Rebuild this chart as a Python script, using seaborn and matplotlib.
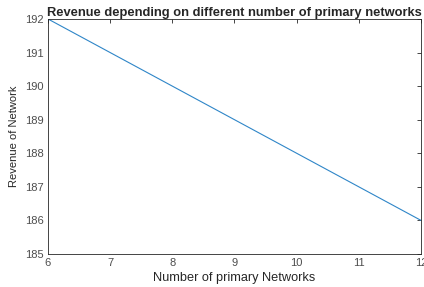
import pandas as pd
import matplotlib
matplotlib.use("Agg")
import matplotlib.pyplot as plt
import seaborn as sns

# --- data ---
num_networks = [6, 7, 8, 9, 10, 11, 12]
revenue = [192, 191, 190, 189, 188, 187, 186]

df = pd.DataFrame({"Number of primary Networks": num_networks, "Revenue of Network": revenue})

sns.set_style("white")
plt.rcParams["font.family"] = ["Liberation Sans", "DejaVu Sans"]

fig = plt.figure(figsize=(4.24, 2.87), dpi=100)
ax = fig.add_axes([0.113, 0.115, 0.88, 0.819])

sns.lineplot(data=df, x="Number of primary Networks", y="Revenue of Network",
             color="#2f86c8", linewidth=0.8, ax=ax)

ax.set_xlim(6, 12)
ax.set_ylim(185, 192)
ax.set_xticks(range(6, 13))
ax.set_yticks(range(185, 193))

ax.tick_params(direction="in", length=3, width=0.6, top=True, right=True,
               labelsize=8, colors="#262626", labelcolor="#4d4d4d", pad=3)
for s in ax.spines.values():
    s.set_visible(True)
    s.set_color("#262626")
    s.set_linewidth(0.6)

ax.set_title("Revenue depending on different number of primary networks",
             fontsize=9.3, fontweight="bold", pad=2)
ax.set_xlabel("Number of primary Networks", fontsize=9.2, color="#262626", labelpad=3)
ax.set_ylabel("Revenue of Network", fontsize=8, color="#262626", labelpad=4)

fig.savefig("out.png", dpi=100)
plt.close()
